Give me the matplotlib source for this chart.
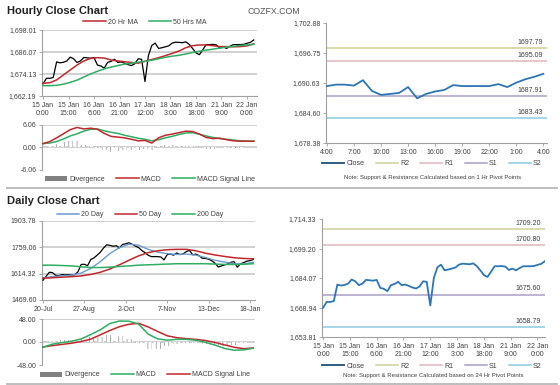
import matplotlib
matplotlib.use("Agg")
import matplotlib.pyplot as plt
from matplotlib.lines import Line2D
from matplotlib.patches import Patch

plt.rcParams['font.family'] = ['Liberation Sans', 'DejaVu Sans']
plt.rcParams['hatch.linewidth'] = 0.5

W, H = 560, 385

# ---- hourly data (15 Jan 0:00 ... , one value every 2 hours) ----
hourly_close = [
    1668.8, 1671.8, 1671.8, 1672.2, 1680.7, 1680.2, 1680.5, 1681.2, 1683.3, 1682.4,
    1680.4, 1681.2, 1683.1, 1682.9, 1682.7, 1683.1, 1679.0, 1678.5, 1677.3, 1680.4,
    1681.0, 1682.1, 1680.4, 1680.7, 1680.0, 1679.2, 1678.7, 1679.7, 1682.4, 1682.1,
    1670.0, 1684.1, 1689.6, 1690.9, 1688.0, 1688.4, 1688.9, 1689.4, 1690.9, 1691.4,
    1691.3, 1691.1, 1691.6, 1690.2, 1688.0, 1685.6, 1684.6, 1687.3, 1690.1, 1690.1,
    1690.2, 1689.9, 1688.2, 1688.9, 1688.0, 1689.2, 1690.1, 1690.1, 1690.1, 1690.2,
    1690.8, 1691.3, 1692.6]
hourly_x = list(range(0, 2 * len(hourly_close), 2))

# moving averages / MACD, one value every 4 hours
ma_hours = list(range(0, 125, 4))
ma20_hr = [1669.1, 1669.4, 1670.9, 1673.6, 1676.3, 1679.0, 1681.2, 1682.6, 1683.0, 1682.8,
           1681.7, 1681.2, 1680.8, 1680.4, 1680.0, 1681.0, 1682.0, 1683.0, 1684.1, 1685.3,
           1686.6, 1688.4, 1689.5, 1689.9, 1689.9, 1689.5, 1689.0, 1689.0, 1688.9, 1689.0,
           1689.4, 1690.5]
ma50_hr = [1667.8, 1667.8, 1668.0, 1668.6, 1669.6, 1670.8, 1672.5, 1674.2, 1675.6, 1676.9,
           1677.9, 1678.7, 1679.5, 1680.0, 1680.5, 1681.0, 1681.6, 1682.4, 1683.2, 1683.8,
           1684.3, 1685.0, 1685.8, 1686.5, 1687.1, 1687.6, 1688.2, 1688.7, 1689.2, 1689.6,
           1689.9, 1690.2]
macd_hr = [1.05, 1.6, 2.6, 3.7, 4.8, 5.4, 5.0, 5.2, 4.9, 3.8, 3.0, 2.8, 2.6, 2.2, 1.8, 1.9,
           1.2, 2.6, 3.3, 3.6, 4.0, 4.4, 4.3, 3.6, 2.7, 2.4, 2.5, 2.1, 1.8, 1.7, 1.7, 1.7]
signal_hr = [1.05, 1.2, 1.6, 2.3, 3.1, 3.7, 4.4, 4.9, 5.0, 4.5, 4.1, 3.8, 3.3, 2.9, 2.5, 2.2,
             1.8, 2.1, 2.6, 3.0, 3.5, 3.9, 4.0, 3.6, 3.1, 2.7, 2.4, 2.2, 2.0, 1.8, 1.7, 1.7]
hour_tick_pos = [0, 15, 30, 45, 60, 75, 90, 105, 120]
hour_tick_labels = ['15 Jan\n0:00', '15 Jan\n15:00', '16 Jan\n6:00', '16 Jan\n21:00', '17 Jan\n12:00',
                    '18 Jan\n3:00', '18 Jan\n18:00', '21 Jan\n9:00', '22 Jan\n0:00']

# last 24 hours, hourly
last24_close = [1690.0, 1690.3, 1690.3, 1690.1, 1691.2, 1689.0, 1688.2, 1688.4, 1688.6, 1689.8,
                1687.5, 1688.4, 1688.9, 1689.2, 1690.2, 1690.0, 1690.0, 1690.0, 1690.0, 1690.4,
                1689.8, 1690.7, 1691.4, 1691.9, 1692.5]
last24_labels = ['4:00', '7:00', '10:00', '13:00', '16:00', '19:00', '22:00', '1:00', '4:00']
pivot_1h = {'R2': 1697.79, 'R1': 1695.09, 'S1': 1687.91, 'S2': 1683.43}
pivot_24h = {'R2': 1709.20, 'R1': 1700.80, 'S1': 1675.60, 'S2': 1658.79}

# ---- daily data (from 20-Jul, one value every 2 trading days) ----
daily_close = [
    1578, 1600, 1622, 1620, 1605, 1604, 1609, 1608, 1609, 1607,
    1608, 1625, 1665, 1666, 1658, 1692, 1701, 1716, 1732, 1755,
    1773, 1770, 1765, 1768, 1756, 1775, 1779, 1784, 1776, 1766,
    1758, 1742, 1730, 1716, 1708, 1708, 1708, 1706, 1690, 1719,
    1722, 1716, 1728, 1719, 1723, 1736, 1742, 1718, 1722, 1713,
    1699, 1698, 1694, 1685, 1672, 1651, 1657, 1663, 1667, 1677,
    1680, 1650, 1669, 1675, 1683, 1686, 1692]
daily_x = list(range(0, 2 * len(daily_close), 2))

ma_days = list(range(0, 133, 6))
ma20_d = [1592, 1598, 1603, 1606, 1618, 1643, 1680, 1725, 1757, 1776, 1771, 1748,
          1733, 1724, 1720, 1722, 1716, 1703, 1688, 1678, 1669, 1667, 1677]
ma50_d = [1589, 1592, 1595, 1598, 1602, 1610, 1622, 1640, 1663, 1688, 1712, 1730,
          1740, 1746, 1748, 1748, 1740, 1727, 1717, 1709, 1702, 1698, 1696]
ma200_d = [1661, 1661, 1659, 1657, 1652, 1648, 1648, 1650, 1654, 1657, 1661, 1663,
           1665, 1667, 1669, 1669, 1669, 1669, 1667, 1665, 1665, 1666, 1669]
macd_d = [-11.0, -4.5, -1.2, 1.6, 6.5, 15.5, 25.5, 38.5, 43.8, 43.4, 37.5, 16.5,
          6.5, 3.8, 5.6, 5.6, 3.6, -0.8, -6.5, -13.5, -17.2, -16.5, -13.0]
signal_d = [-10.4, -7.5, -5.0, -2.5, 1.0, 6.0, 15.0, 24.0, 32.0, 37.0, 39.0, 31.5,
            22.0, 13.0, 9.0, 7.0, 5.5, 3.0, -1.0, -6.0, -11.0, -14.0, -12.5]
day_tick_pos = [0, 26, 52, 78, 104, 130]
day_tick_labels = ['20-Jul', '27-Aug', '2-Oct', '7-Nov', '13-Dec', '18-Jan']

RED = '#c0282d'
GREEN = '#2fae63'
BLUE = '#2e75b6'
LBLUE = '#6b9bd0'
GRID = '#c4c4c4'
SPINE = '#a0a0a0'
TXT = '#404040'
pivot_colors = {'R2': '#cfcf9a', 'R1': '#e2b5bd', 'S1': '#ab9fc9', 'S2': '#8fc9e2'}
FS = 5


def box(x0, y0, x1, y1):
    return [x0 / W, 1 - y1 / H, (x1 - x0) / W, (y1 - y0) / H]


def style(ax, grid_vals=(), bottom=True):
    for s in ['top', 'right']:
        ax.spines[s].set_visible(False)
    ax.spines['left'].set_color(SPINE)
    ax.spines['bottom'].set_color(SPINE)
    ax.spines['bottom'].set_visible(bottom)
    ax.tick_params(colors=SPINE, labelcolor=TXT, labelsize=FS, length=2.5, width=0.6, pad=1.5)
    for v in grid_vals:
        ax.axhline(v, color=GRID, lw=1.1, zorder=0)


def legend_at(handles, labels, cx, cy, ncol):
    fig.legend(handles, labels, loc='center', bbox_to_anchor=(cx / W, 1 - cy / H), ncol=ncol,
               frameon=False, fontsize=FS, handlelength=3.2, handletextpad=0.3,
               columnspacing=1.6, labelcolor=TXT)


def pivots(ax, piv):
    for k in ['R2', 'R1', 'S1', 'S2']:
        ax.axhline(piv[k], color=pivot_colors[k], lw=1.1, zorder=1)
        ax.annotate(f"{piv[k]:.2f}", xy=(1, piv[k]), xycoords=ax.get_yaxis_transform(),
                    xytext=(-3, 1.5), textcoords='offset points', ha='right', va='bottom',
                    fontsize=FS, color=TXT)


fig = plt.figure(figsize=(W / 100, H / 100), dpi=100)
fig.patch.set_facecolor('white')

fig.text(7 / W, 1 - 11 / H, 'Hourly Close Chart', fontsize=8, fontweight='bold', color='#222222', va='center')
fig.text(274 / W, 1 - 11 / H, 'COZFX.COM', fontsize=6.3, color='#555555', va='center', ha='center')
fig.text(7 / W, 1 - 201 / H, 'Daily Close Chart', fontsize=8, fontweight='bold', color='#222222', va='center')
fig.add_artist(Line2D([0.012, 0.995], [1 - 188 / H] * 2, color='#b8b8b8', lw=1.3))
fig.add_artist(Line2D([0.012, 0.995], [1 - 383.5 / H] * 2, color='#b8b8b8', lw=1.3))

# ---- hourly price ----
hour_ticks = [1662.19, 1674.13, 1686.07, 1698.01]
ax1 = fig.add_axes(box(42, 30, 257, 96))
style(ax1, hour_ticks[1:])
ax1.plot(hourly_x, hourly_close, color='black', lw=0.9, zorder=3)
ax1.plot(ma_hours, ma20_hr, color=RED, lw=1.1, zorder=4)
ax1.plot(ma_hours, ma50_hr, color=GREEN, lw=1.1, zorder=4)
ax1.set_xlim(-0.6, 125.9)
ax1.set_ylim(hour_ticks[0], hour_ticks[-1])
ax1.set_yticks(hour_ticks, [f"{v:,.2f}" for v in hour_ticks])
ax1.set_xticks(hour_tick_pos, hour_tick_labels)
legend_at([Line2D([], [], color=RED, lw=1.1), Line2D([], [], color=GREEN, lw=1.1)],
          ['20 Hr MA', '50 Hrs MA'], 145, 22, 2)

# ---- hourly MACD ----
ax2 = fig.add_axes(box(42, 125, 257, 170))
style(ax2, [6.06, 0.0], bottom=False)
div_hr = [m - s for m, s in zip(macd_hr, signal_hr)]
ax2.bar(ma_hours, div_hr, width=3.0, facecolor='white', edgecolor='#8c8c8c', hatch='||||', lw=0, zorder=2)
ax2.plot(ma_hours, macd_hr, color=RED, lw=1.1, zorder=4)
ax2.plot(ma_hours, signal_hr, color=GREEN, lw=1.1, zorder=3)
ax2.set_xlim(-0.6, 125.9)
ax2.set_ylim(-6.06, 6.06)
ax2.set_yticks([-6.06, 0, 6.06], ['-6.06', '0.00', '6.06'])
ax2.set_xticks([])
legend_at([Patch(facecolor='#808080'), Line2D([], [], color=RED, lw=1.1), Line2D([], [], color=GREEN, lw=1.1)],
          ['Divergence', 'MACD', 'MACD Signal Line'], 150, 179, 3)

# ---- last 24h with 1h pivots ----
ax3 = fig.add_axes(box(326, 23, 547, 143))
style(ax3)
pivots(ax3, pivot_1h)
ax3.plot(range(len(last24_close)), last24_close, color=BLUE, lw=1.3, zorder=3)
ax3.set_xlim(-0.1, 24.4)
r_ticks = [1678.38, 1684.60, 1690.63, 1696.75, 1702.88]
ax3.set_ylim(r_ticks[0], r_ticks[-1])
ax3.set_yticks(r_ticks, [f"{v:,.2f}" for v in r_ticks])
ax3.set_xticks(range(0, 25, 3), last24_labels)
piv_handles = [Line2D([], [], color='#1f4e79', lw=1.3)] + [Line2D([], [], color=pivot_colors[k], lw=1.1) for k in ['R2', 'R1', 'S1', 'S2']]
legend_at(piv_handles, ['Close', 'R2', 'R1', 'S1', 'S2'], 432, 164, 5)
fig.text(433 / W, 1 - 177 / H, 'Note: Support & Resistance Calculated based on 1 Hr Pivot Points',
         fontsize=4.3, color=TXT, ha='center', va='center')

# ---- daily price ----
day_ticks = [1469.60, 1614.32, 1759.06, 1903.78]
ax4 = fig.add_axes(box(42, 221, 255, 300))
style(ax4, day_ticks[1:])
ax4.plot(daily_x, daily_close, color='black', lw=0.9, zorder=3)
ax4.plot(ma_days, ma20_d, color=LBLUE, lw=1.0, zorder=4)
ax4.plot(ma_days, ma50_d, color=RED, lw=1.1, zorder=4)
ax4.plot(ma_days, ma200_d, color=GREEN, lw=1.1, zorder=4)
ax4.set_xlim(-0.6, 133.1)
ax4.set_ylim(day_ticks[0], day_ticks[-1])
ax4.set_yticks(day_ticks, [f"{v:.2f}" for v in day_ticks])
ax4.set_xticks(day_tick_pos, day_tick_labels)
legend_at([Line2D([], [], color=LBLUE, lw=1.1), Line2D([], [], color=RED, lw=1.1), Line2D([], [], color=GREEN, lw=1.1)],
          ['20 Day', '50 Day', '200 Day'], 140, 215, 3)

# ---- daily MACD ----
ax5 = fig.add_axes(box(42, 319, 255, 365))
style(ax5, [48.0, 0.0], bottom=False)
div_d = [m - s for m, s in zip(macd_d, signal_d)]
ax5.bar(ma_days, div_d, width=4.5, facecolor='white', edgecolor='#8c8c8c', hatch='||||', lw=0, zorder=2)
ax5.plot(ma_days, macd_d, color=GREEN, lw=1.1, zorder=4)
ax5.plot(ma_days, signal_d, color=RED, lw=1.1, zorder=3)
ax5.set_xlim(-0.6, 133.1)
ax5.set_ylim(-48, 48)
ax5.set_yticks([-48, 0, 48], ['-48.00', '0.00', '48.00'])
ax5.set_xticks([])
legend_at([Patch(facecolor='#808080'), Line2D([], [], color=GREEN, lw=1.1), Line2D([], [], color=RED, lw=1.1)],
          ['Divergence', 'MACD', 'MACD Signal Line'], 145, 375, 3)

# ---- hourly close with 24h pivots ----
ax6 = fig.add_axes(box(322, 219, 545, 337))
style(ax6)
pivots(ax6, pivot_24h)
ax6.plot(hourly_x, hourly_close, color=BLUE, lw=1.3, zorder=3)
ax6.set_xlim(-0.6, 124.2)
b_ticks = [1653.81, 1668.94, 1684.07, 1699.20, 1714.33]
ax6.set_ylim(b_ticks[0], b_ticks[-1])
ax6.set_yticks(b_ticks, [f"{v:,.2f}" for v in b_ticks])
ax6.set_xticks(hour_tick_pos, hour_tick_labels)
legend_at(piv_handles, ['Close', 'R2', 'R1', 'S1', 'S2'], 432, 366, 5)
fig.text(433 / W, 1 - 376 / H, 'Note: Support & Resistance Calculated based on 24 Hr Pivot Points',
         fontsize=4.3, color=TXT, ha='center', va='center')

fig.savefig('out.png', dpi=100, facecolor='white')
